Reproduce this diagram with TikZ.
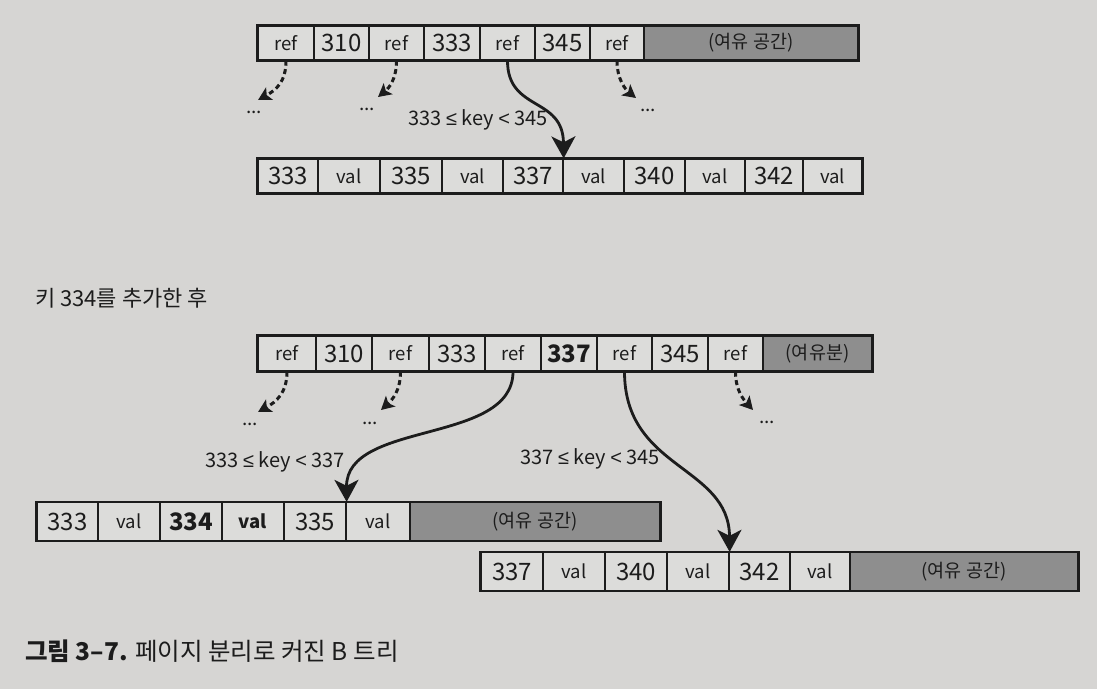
\documentclass[tikz,border=0pt]{standalone}
\usepackage{fontspec}
\setmainfont{Noto Sans CJK KR}
\newfontfamily\symfont{Liberation Sans}
\newcommand{\myle}{{\symfont ≤}}
\newcommand{\mylt}{{\symfont <}}
\usetikzlibrary{arrows.meta}
\definecolor{paper}{HTML}{D6D5D3}
\definecolor{cellbg}{HTML}{DCDCDA}
\definecolor{freegray}{HTML}{8E8E8E}
\definecolor{ink}{HTML}{1C1C1C}
\tikzset{
  cell/.style={draw=ink, line width=1.3pt, fill=cellbg, inner sep=0pt, text=ink,
    font=\fontsize{18.5}{20}\selectfont},
  num/.style={cell, font=\fontsize{24}{26}\selectfont},
  free/.style={cell, fill=freegray},
  rowframe/.style={draw=ink, line width=2.6pt},
  dotarrow/.style={draw=ink, line width=3pt, dash pattern=on 5pt off 3.5pt,
    -{Stealth[length=13pt,width=14pt,inset=3pt]}},
  solidarrow/.style={draw=ink, line width=2.8pt,
    -{Stealth[length=22pt,width=24pt,inset=6pt]}},
  lbl/.style={text=ink, font=\fontsize{20}{22}\selectfont, inner sep=0pt},
  dots/.style={text=ink, font=\fontsize{19}{20}\selectfont, inner sep=0pt},
  capt/.style={text=ink, inner sep=0pt, anchor=west},
}
\begin{document}
\begin{tikzpicture}[x=1pt,y=-1pt]
\fill[paper] (0,0) rectangle (1097,689);
\useasboundingbox (0,0) rectangle (1097,689);

% ---- top internal page ----
\begin{scope}[every node/.append style={minimum height=34pt}]
\node[cell, minimum width=56pt] (t1) at (286,43) {ref};
\node[num,  minimum width=55pt] (t2) at (341.5,43) {310};
\node[cell, minimum width=55pt] (t3) at (396.5,43) {ref};
\node[num,  minimum width=56pt] (t4) at (452,43) {333};
\node[cell, minimum width=55pt] (t5) at (507.5,43) {ref};
\node[num,  minimum width=55pt] (t6) at (562.5,43) {345};
\node[cell, minimum width=54pt] (t7) at (617,43) {ref};
\node[free, minimum width=214pt] (t8) at (751,43) {(여유 공간)};
\end{scope}
\draw[rowframe] (t1.north west) rectangle (t8.south east);

% ---- top leaf page ----
\begin{scope}[every node/.append style={minimum height=34pt}]
\node[num,  minimum width=60pt] (l1) at (288,176) {333};
\node[cell, minimum width=62pt] (l2) at (349,176) {val};
\node[num,  minimum width=62pt] (l3) at (411,176) {335};
\node[cell, minimum width=61pt] (l4) at (472.5,176) {val};
\node[num,  minimum width=60pt] (l5) at (533,176) {337};
\node[cell, minimum width=61pt] (l6) at (593.5,176) {val};
\node[num,  minimum width=61pt] (l7) at (654.5,176) {340};
\node[cell, minimum width=60pt] (l8) at (715,176) {val};
\node[num,  minimum width=58pt] (l9) at (774,176) {342};
\node[cell, minimum width=59pt] (l10) at (832.5,176) {val};
\end{scope}
\draw[rowframe] (l1.north west) rectangle (l10.south east);

% top connectors
\coordinate (d1) at (258,100);
\coordinate (d2) at (378,97);
\coordinate (d3) at (636,98);
\draw[dotarrow] (t1.south) .. controls (286,82) and (276,90) .. (d1);
\draw[dotarrow] (t3.south) .. controls (396.5,79) and (389,88) .. (d2);
\draw[dotarrow] (t7.south) .. controls (617,80) and (626,90) .. (d3);
\draw[solidarrow] (t5.south) .. controls (507.5,112) and (563,96) .. (l5.north east);
\node[dots] (u1) at (254,112) {...};
\node[dots] (u2) at (367,109) {...};
\node[dots] (u3) at (648,110) {...};
\node[lbl] (k1) at (478,120) {333 \myle{} key \mylt{} 345};

% caption middle
\node[capt, font=\fontsize{22}{24}\selectfont] (c1) at (35,298) {키 334를 추가한 후};

% ---- second internal page ----
\begin{scope}[every node/.append style={minimum height=35pt}]
\node[cell, minimum width=58pt] (i1) at (287,353.5) {ref};
\node[num,  minimum width=56pt] (i2) at (344,353.5) {310};
\node[cell, minimum width=57pt] (i3) at (400.5,353.5) {ref};
\node[num,  minimum width=56pt] (i4) at (457,353.5) {333};
\node[cell, minimum width=56pt] (i5) at (513,353.5) {ref};
\node[num,  minimum width=56pt] (i6) at (569,353.5) {\textbf{337}};
\node[cell, minimum width=55pt] (i7) at (624.5,353.5) {ref};
\node[num,  minimum width=56pt] (i8) at (680,353.5) {345};
\node[cell, minimum width=55pt] (i9) at (735.5,353.5) {ref};
\node[free, minimum width=109pt] (i10) at (817.5,353.5) {(여유분)};
\end{scope}
\draw[rowframe] (i1.north west) rectangle (i10.south east);

% ---- leaf page A ----
\begin{scope}[every node/.append style={minimum height=38pt}]
\node[num,  minimum width=61pt] (a1) at (67.5,521.5) {333};
\node[cell, minimum width=62pt] (a2) at (129,521.5) {val};
\node[num,  minimum width=62pt] (a3) at (191,521.5) {\textbf{334}};
\node[cell, minimum width=62pt] (a4) at (253,521.5) {\textbf{val}};
\node[num,  minimum width=62pt] (a5) at (315,521.5) {335};
\node[cell, minimum width=64pt] (a6) at (378,521.5) {val};
\node[free, minimum width=250pt] (a7) at (535,521.5) {(여유 공간)};
\end{scope}
\draw[rowframe] (a1.north west) rectangle (a7.south east);

% ---- leaf page B ----
\begin{scope}[every node/.append style={minimum height=38pt}]
\node[num,  minimum width=62pt] (b1) at (512,571.5) {337};
\node[cell, minimum width=62pt] (b2) at (574,571.5) {val};
\node[num,  minimum width=62pt] (b3) at (636,571.5) {340};
\node[cell, minimum width=62pt] (b4) at (698,571.5) {val};
\node[num,  minimum width=61pt] (b5) at (759.5,571.5) {342};
\node[cell, minimum width=60pt] (b6) at (820,571.5) {val};
\node[free, minimum width=228pt] (b7) at (964,571.5) {(여유 공간)};
\end{scope}
\draw[rowframe] (b1.north west) rectangle (b7.south east);

% second connectors
\coordinate (e1) at (258,412);
\coordinate (e2) at (381,410);
\coordinate (e3) at (753,410);
\draw[dotarrow] (i1.south) .. controls (287,393) and (276,402) .. (e1);
\draw[dotarrow] (i3.south) .. controls (400.5,391) and (392,400) .. (e2);
\draw[dotarrow] (i9.south) .. controls (735.5,391) and (744,400) .. (e3);
\draw[solidarrow] (i5.south) .. controls (513,445) and (346,420) .. (a5.north east);
\draw[solidarrow] (i7.south) .. controls (624.5,470) and (729,465) .. (b4.north east);
\node[dots] (v1) at (250,424) {...};
\node[dots] (v2) at (370,423) {...};
\node[dots] (v3) at (767,422) {...};
\node[lbl] (k2) at (275,462) {333 \myle{} key \mylt{} 337};
\node[lbl] (k3) at (590,459) {337 \myle{} key \mylt{} 345};

% figure caption
\node[capt, font=\fontsize{24.5}{26}\selectfont] (c2) at (25,651) {\textbf{그림 3–7.} 페이지 분리로 커진 B 트리};
\end{tikzpicture}
\end{document}
